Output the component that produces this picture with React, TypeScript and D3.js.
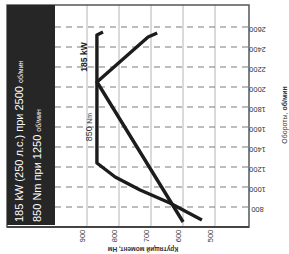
import React from "react";
import * as d3 from "d3";

// rpm values
const rpmTicks = [800, 1000, 1200, 1400, 1600, 1800, 2000, 2200, 2400, 2600];
const torqueTicks = [900, 800, 700, 600, 500];

const torqueRpm = [670, 840, 970, 1100, 1240, 2520, 2550];
const torqueNm = [541, 641, 734, 812, 869, 869, 850];

const powerRpm = [650, 2050, 2500, 2540];
const powerKw = [62, 185, 112, 99];

const W = 289;
const H = 254;
const font = "'Liberation Sans', Arial, sans-serif";

export default function App() {
  const x0 = 55;
  const x1 = 249;
  const y0 = 5;
  const y1 = 227;

  const y = d3.scaleLinear().domain([800, 2600]).range([207, 27]);
  const xT = d3.scaleLinear().domain([1000, 400]).range([55, 247]);
  const xP = d3.scaleLinear().domain([250, 0]).range([51.5, 226.5]);

  const line = d3.line<[number, number]>().x(d => d[0]).y(d => d[1]);
  const torquePts: [number, number][] = torqueRpm.map((r, i) => [xT(torqueNm[i]), y(r)]);
  const powerPts: [number, number][] = powerRpm.map((r, i) => [xP(powerKw[i]), y(r)]);

  return (
    <svg width={W} height={H} style={{ position: "absolute", left: 0, top: 0, background: "#fff" }} fontFamily={font}>
      {/* grid */}
      {torqueTicks.map(t => (
        <line key={"v" + t} x1={xT(t)} x2={xT(t)} y1={y0} y2={y1} stroke="#b5b5b5" strokeWidth={1} />
      ))}
      {rpmTicks.map(r => (
        <line key={"h" + r} x1={x0} x2={x1} y1={y(r)} y2={y(r)} stroke="#7a7a7a" strokeWidth={1} strokeDasharray="6,5" />
      ))}

      {/* frame */}
      <rect x={7} y={y0} width={x1 - 7} height={y1 - y0} fill="none" stroke="#555" strokeWidth={1.5} />
      <line x1={7} x2={x1} y1={y1} y2={y1} stroke="#444" strokeWidth={2} />

      {/* dark info box */}
      <rect x={7} y={y0} width={x0 - 7} height={y1 - y0 - 2} fill="#262626" />
      <text transform="translate(23,222) rotate(-90)" fill="#fff" fontSize={11}>
        185 kW (250 л.с.) при 2500 <tspan fontSize={7}>об/мин</tspan>
      </text>
      <text transform="translate(41,222) rotate(-90)" fill="#fff" fontSize={11}>
        850 Nm при 1250 <tspan fontSize={7}>об/мин</tspan>
      </text>

      {/* curves */}
      <path d={line(powerPts) ?? ""} fill="none" stroke="#1c1c1c" strokeWidth={3.4} strokeLinejoin="round" />
      <path d={line(torquePts) ?? ""} fill="none" stroke="#1c1c1c" strokeWidth={3.4} strokeLinejoin="round" />

      {/* curve labels */}
      <text transform="translate(84,57) rotate(-90)" textAnchor="middle" dominantBaseline="central" fontSize={8.5} fontWeight="bold" fill="#222">
        185 kW
      </text>
      <text transform="translate(89,127) rotate(-90)" textAnchor="middle" dominantBaseline="central" fontSize={9} fill="#333">
        850 <tspan fontSize={7}>Nm</tspan>
      </text>

      {/* torque axis labels */}
      {torqueTicks.map(t => (
        <text key={"tl" + t} transform={`translate(${xT(t) - 5},236) rotate(-90)`} textAnchor="middle" dominantBaseline="central" fontSize={7.5} fill="#333">
          {t}
        </text>
      ))}
      <text transform="translate(143,247) rotate(180)" textAnchor="middle" fontSize={6.5} fontWeight="bold" fill="#333">
        Крутящий момент, Нм
      </text>

      {/* rpm axis labels (upside down) */}
      {rpmTicks.map(r => (
        <text key={"rl" + r} transform={`translate(257.5,${y(r) + 2}) rotate(180)`} textAnchor="middle" dominantBaseline="central" fontSize={7.5} fill="#333">
          {r}
        </text>
      ))}
      <text transform="translate(284,115) rotate(-90)" textAnchor="middle" dominantBaseline="central" fontSize={7} fill="#333">
        Обороты, <tspan fontWeight="bold">об/мин</tspan>
      </text>
    </svg>
  );
}
